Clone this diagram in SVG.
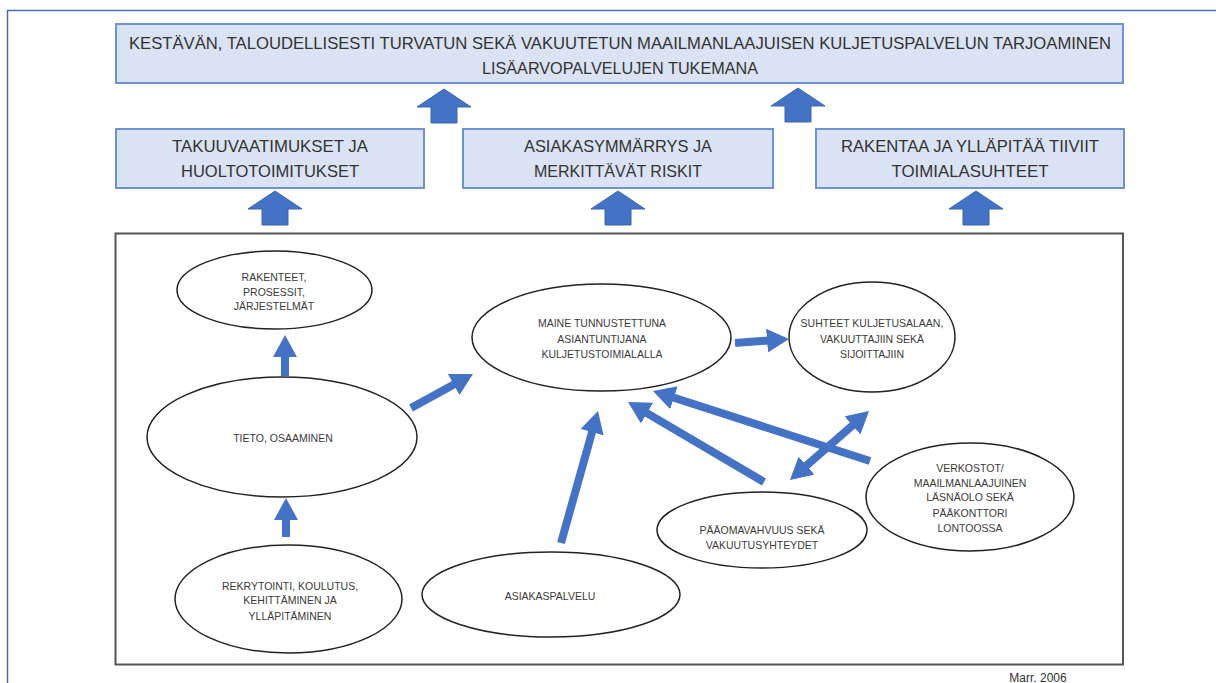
<svg xmlns="http://www.w3.org/2000/svg" width="1216" height="683" viewBox="0 0 1216 683">
  <style>
    .frame { stroke: #4a6db5; stroke-width: 1.5; fill: none; }
    .box { fill: #dae3f3; stroke: #6f93d2; stroke-width: 2; }
    .boxtext { font-family: "Liberation Sans", Arial, sans-serif; font-size: 17px; fill: #333333; text-anchor: middle; }
    .panel { fill: #ffffff; stroke: #555555; stroke-width: 2; }
    .node { fill: #ffffff; stroke: #222222; stroke-width: 1.5; }
    .label { font-family: "Liberation Sans", Arial, sans-serif; font-size: 10.5px; fill: #3a3a3a; text-anchor: middle; }
    .block { fill: #4472c4; stroke: #3a64b0; stroke-width: 1; }
    .link { stroke: #4472c4; stroke-width: 8; fill: none; marker-end: url(#head); }
    .credit { font-family: "Liberation Sans", Arial, sans-serif; font-size: 12px; fill: #333333; text-anchor: middle; }
  </style>
  <defs>
    <!-- wide block arrow pointing up, tip at origin -->
    <path id="blockArrow" d="M0,0 L27,18 L13,18 L13,34 L-13,34 L-13,18 L-27,18 Z"/>
    <marker id="head" markerUnits="userSpaceOnUse" viewBox="0 0 22 24" markerWidth="22" markerHeight="24" refX="8" refY="12" orient="auto-start-reverse">
      <path d="M0,0 L22,12 L0,24 Z" fill="#4472c4"/>
    </marker>
  </defs>

  <rect width="1216" height="683" fill="#ffffff"/>

  <!-- page frame -->
  <path class="frame" d="M1216,10.5 H7.5 V683"/>

  <!-- goal -->
  <g id="goal">
    <rect class="box" x="116" y="24" width="1007" height="59"/>
    <text class="boxtext" x="620" y="49" textLength="982" lengthAdjust="spacingAndGlyphs">KESTÄVÄN, TALOUDELLISESTI TURVATUN SEKÄ VAKUUTETUN MAAILMANLAAJUISEN KULJETUSPALVELUN TARJOAMINEN</text>
    <text class="boxtext" x="620" y="74" textLength="276" lengthAdjust="spacingAndGlyphs">LISÄARVOPALVELUJEN TUKEMANA</text>
  </g>

  <!-- pillars -->
  <g id="pillar-warranty">
    <rect class="box" x="116" y="129" width="308" height="59"/>
    <text class="boxtext" x="270" y="152" textLength="196" lengthAdjust="spacingAndGlyphs">TAKUUVAATIMUKSET JA</text>
    <text class="boxtext" x="270" y="177" textLength="178" lengthAdjust="spacingAndGlyphs">HUOLTOTOIMITUKSET</text>
  </g>
  <g id="pillar-customer">
    <rect class="box" x="463" y="129" width="310" height="59"/>
    <text class="boxtext" x="618" y="152" textLength="188" lengthAdjust="spacingAndGlyphs">ASIAKASYMMÄRRYS JA</text>
    <text class="boxtext" x="618" y="177" textLength="168" lengthAdjust="spacingAndGlyphs">MERKITTÄVÄT RISKIT</text>
  </g>
  <g id="pillar-industry">
    <rect class="box" x="816" y="129" width="308" height="59"/>
    <text class="boxtext" x="970" y="152" textLength="258" lengthAdjust="spacingAndGlyphs">RAKENTAA JA YLLÄPITÄÄ TIIVIIT</text>
    <text class="boxtext" x="970" y="177" textLength="157" lengthAdjust="spacingAndGlyphs">TOIMIALASUHTEET</text>
  </g>

  <!-- upward block arrows between levels -->
  <g id="level-arrows">
    <use href="#blockArrow" class="block" transform="translate(444,89)"/>
    <use href="#blockArrow" class="block" transform="translate(798,88)"/>
    <use href="#blockArrow" class="block" transform="translate(275,191)"/>
    <use href="#blockArrow" class="block" transform="translate(618,191)"/>
    <use href="#blockArrow" class="block" transform="translate(976,191)"/>
  </g>

  <!-- capability panel -->
  <rect class="panel" x="115.5" y="233.5" width="1007.5" height="431"/>

  <g id="structures">
    <ellipse class="node" cx="274.5" cy="290" rx="97.5" ry="39"/>
    <text class="label" x="274" y="281">RAKENTEET,</text>
    <text class="label" x="274" y="296">PROSESSIT,</text>
    <text class="label" x="274" y="310">JÄRJESTELMÄT</text>
  </g>
  <g id="knowledge">
    <ellipse class="node" cx="282" cy="437" rx="135" ry="60"/>
    <text class="label" x="283" y="442">TIETO, OSAAMINEN</text>
  </g>
  <g id="reputation">
    <ellipse class="node" cx="601.5" cy="337.5" rx="129.5" ry="53.5"/>
    <text class="label" x="602" y="327">MAINE TUNNUSTETTUNA</text>
    <text class="label" x="602" y="343">ASIANTUNTIJANA</text>
    <text class="label" x="602" y="358">KULJETUSTOIMIALALLA</text>
  </g>
  <g id="relations">
    <ellipse class="node" cx="872" cy="337" rx="83" ry="55"/>
    <text class="label" x="872" y="327">SUHTEET KULJETUSALAAN,</text>
    <text class="label" x="872" y="343">VAKUUTTAJIIN SEKÄ</text>
    <text class="label" x="872" y="358">SIJOITTAJIIN</text>
  </g>
  <g id="capital">
    <ellipse class="node" cx="762" cy="530" rx="105" ry="38"/>
    <text class="label" x="762" y="534">PÄÄOMAVAHVUUS SEKÄ</text>
    <text class="label" x="762" y="549">VAKUUTUSYHTEYDET</text>
  </g>
  <g id="networks">
    <ellipse class="node" cx="970" cy="497" rx="104" ry="54"/>
    <text class="label" x="970" y="472">VERKOSTOT/</text>
    <text class="label" x="970" y="487">MAAILMANLAAJUINEN</text>
    <text class="label" x="970" y="501">LÄSNÄOLO SEKÄ</text>
    <text class="label" x="970" y="517">PÄÄKONTTORI</text>
    <text class="label" x="970" y="532">LONTOOSSA</text>
  </g>
  <g id="recruitment">
    <ellipse class="node" cx="288.5" cy="599" rx="113.5" ry="54"/>
    <text class="label" x="290" y="590">REKRYTOINTI, KOULUTUS,</text>
    <text class="label" x="290" y="604">KEHITTÄMINEN JA</text>
    <text class="label" x="290" y="620">YLLÄPITÄMINEN</text>
  </g>
  <g id="service">
    <ellipse class="node" cx="551" cy="594.5" rx="129" ry="42.5"/>
    <text class="label" x="550" y="600">ASIAKASPALVELU</text>
  </g>

  <!-- connectors -->
  <g id="connectors">
    <line class="link" x1="285" y1="376" x2="285" y2="349"/>
    <line class="link" x1="286" y1="537" x2="286" y2="512"/>
    <line class="link" stroke-width="9" x1="411" y1="408" x2="460.7" y2="380.7"/>
    <line class="link" x1="735" y1="343" x2="775" y2="340"/>
    <line class="link" x1="561" y1="543" x2="594.2" y2="424.5"/>
    <line class="link" x1="764" y1="482" x2="640.1" y2="409.1"/>
    <line class="link" x1="870" y1="461" x2="666.3" y2="395.3"/>
    <line class="link" stroke-width="7" marker-start="url(#head)" x1="800.5" y1="470.8" x2="858.5" y2="420.2"/>
  </g>

  <text class="credit" x="1038" y="682">Marr. 2006</text>
</svg>
